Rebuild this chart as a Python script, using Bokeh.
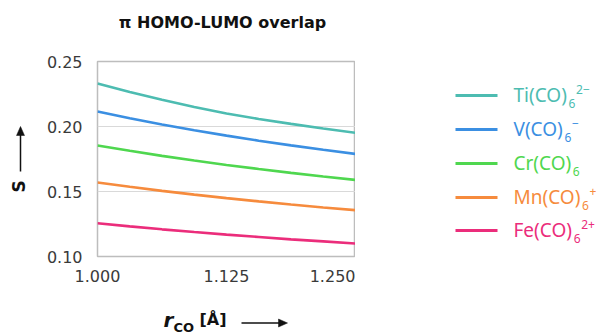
import math
from bokeh.plotting import figure
from bokeh.layouts import row, column
from bokeh.models import Range1d, FixedTicker, NumeralTickFormatter
from bokeh.core.properties import value
from bokeh.embed import file_html
from bokeh.resources import INLINE

# ---------------- data ----------------
r_co = [1.0, 1.03125, 1.0625, 1.09375, 1.125, 1.15625, 1.1875, 1.21875, 1.25]
ti = [0.2330, 0.2265, 0.2205, 0.2150, 0.2100, 0.2058, 0.2020, 0.1984, 0.1951]
v = [0.2115, 0.2063, 0.2015, 0.1971, 0.1930, 0.1891, 0.1855, 0.1821, 0.1789]
cr = [0.1854, 0.1813, 0.1774, 0.1738, 0.1704, 0.1673, 0.1643, 0.1615, 0.1589]
mn = [0.1569, 0.1536, 0.1505, 0.1476, 0.1449, 0.1424, 0.1400, 0.1377, 0.1356]
fe = [0.1256, 0.1232, 0.1209, 0.1188, 0.1168, 0.1150, 0.1132, 0.1116, 0.1100]

series_main = ["Ti(CO)", "V(CO)", "Cr(CO)", "Mn(CO)", "Fe(CO)"]
series_sub = ["6", "6", "6", "6", "6"]
series_sup = ["2\u2212", "\u2212", "", "+", "2+"]
series_vals = [ti, v, cr, mn, fe]
colors = ["#4dbcb1", "#3b8fe2", "#4fd74f", "#f68b3d", "#eb2d7b"]

x_ticks = [1.0, 1.125, 1.25]
y_ticks = [0.10, 0.15, 0.20, 0.25]

title_text = "\u03c0 HOMO-LUMO overlap"

# ---------------- layout constants (canvas pixels) ----------------
W, H = 604, 334
LEFT_W = 40          # left strip with the "S" label
TOP_Y = 42           # bottom edge of title strip
MID_Y = 296          # bottom edge of the middle row
FL, FR, FT, FB = 97, 355, 61, 256   # plot frame edges
INK = "#111111"
MID = 0.345          # em offset of the "middle" baseline above the alphabetic one


def deco_fig(x0, x1, y0, y1):
    f = figure(width=x1 - x0, height=y1 - y0, output_backend="svg",
               toolbar_location=None, x_range=Range1d(x0, x1),
               y_range=Range1d(y1, y0), x_axis_location=None,
               y_axis_location=None, min_border=0)
    f.min_border_left = f.min_border_right = 0
    f.min_border_top = f.min_border_bottom = 0
    f.frame_align = False
    f.outline_line_color = None
    f.grid.visible = False
    f.background_fill_color = "white"
    f.border_fill_color = "white"
    return f


def txt(f, x, base_y, s, size, color=INK, font="DejaVu Sans", style="normal",
        align="left", angle=0.0):
    # base_y is the wanted alphabetic baseline; draw with a "middle" baseline
    f.text(x=[x], y=[base_y - MID * size], text=[s], text_font=value(font),
           text_font_style=style, text_font_size=f"{size}px", text_color=color,
           text_align=align, text_baseline="middle", angle=angle)


def arrow(f, x0, y0, x1, y1, head=9, half=4, width=1.5):
    dx, dy = x1 - x0, y1 - y0
    L = math.hypot(dx, dy)
    ux, uy = dx / L, dy / L
    bx, by = x1 - ux * head, y1 - uy * head
    f.line([x0, bx + ux], [y0, by + uy], line_color=INK, line_width=width)
    f.patch([x1, bx - uy * half, bx + uy * half], [y1, by + ux * half, by - ux * half],
            fill_color=INK, line_color=INK, line_width=0.5)


# ---------------- main plot ----------------
p = figure(width=FR - LEFT_W, height=MID_Y - TOP_Y, output_backend="svg",
           toolbar_location=None,
           x_range=Range1d(1.0, 1.25), y_range=Range1d(0.10, 0.25))
p.min_border_left = FL - LEFT_W
p.min_border_right = 0
p.min_border_top = FT - TOP_Y
p.min_border_bottom = MID_Y - FB
p.frame_align = False
p.background_fill_color = "white"
p.border_fill_color = "white"
p.outline_line_color = "#bdbdbd"
p.outline_line_width = 1.5

p.xgrid.visible = False
p.ygrid.ticker = FixedTicker(ticks=y_ticks)
p.ygrid.grid_line_color = "#d9d9d9"
p.ygrid.grid_line_width = 1.2

for ax in (p.xaxis[0], p.yaxis[0]):
    ax.axis_line_color = None
    ax.major_tick_line_color = None
    ax.minor_tick_line_color = None
    ax.major_tick_out = 0
    ax.major_tick_in = 0
    ax.major_label_text_font = "DejaVu Sans"
    ax.major_label_text_font_size = "16px"
    ax.major_label_text_color = "#3a3a3a"

p.xaxis[0].ticker = FixedTicker(ticks=x_ticks)
p.xaxis[0].formatter = NumeralTickFormatter(format="0.000")
p.xaxis[0].major_label_standoff = 13
p.yaxis[0].ticker = FixedTicker(ticks=y_ticks)
p.yaxis[0].formatter = NumeralTickFormatter(format="0.00")
p.yaxis[0].major_label_standoff = 15

for vals, c in zip(series_vals, colors):
    p.line(r_co, vals, line_color=c, line_width=2.6)

# ---------------- title strip ----------------
ft = deco_fig(0, W, 0, TOP_Y)
txt(ft, 222, 28, title_text, 16, style="bold", align="center")

# ---------------- left strip: S with arrow ----------------
fa = deco_fig(0, LEFT_W, TOP_Y, MID_Y)
fa.text(x=[18], y=[186], text=["S"], text_font=value("DejaVu Sans"),
        text_font_style="bold", text_font_size="17px", text_color=INK,
        text_align="center", text_baseline="middle", angle=math.pi / 2)
arrow(fa, 20, 171, 20, 126)

# ---------------- legend strip ----------------
fc = deco_fig(FR, W, TOP_Y, MID_Y)
row_y = [95, 129, 163, 197, 230]
main_w = [2.82, 2.603, 3.037, 3.528, 3.087]   # approx text widths (em)
FS = 19
for i in range(5):
    y = row_y[i]
    c = colors[i]
    fc.line([455, 497], [y, y], line_color=c, line_width=3)
    tx = 513
    txt(fc, tx, y + 6, series_main[i], FS, color=c, font="Noto Sans")
    sub_x = tx + main_w[i] * FS + 1.5
    txt(fc, sub_x, y + 12, series_sub[i], 12, color=c, font="Noto Sans")
    if series_sup[i]:
        txt(fc, sub_x + 7.5, y - 2, series_sup[i], 12, color=c, font="Noto Sans")

# ---------------- bottom strip: x label ----------------
fd = deco_fig(0, W, MID_Y, H)
txt(fd, 163, 326.5, "r", 20, style="bold italic")
txt(fd, 173, 331.5, "CO", 13, style="bold")
txt(fd, 199, 325, "[\u00c5]", 16, style="bold")
arrow(fd, 241, 322.5, 287, 322.5)

layout = column(ft, row(fa, p, fc, spacing=0), fd, spacing=0)
open("out.html", "w").write(file_html(layout, INLINE))
